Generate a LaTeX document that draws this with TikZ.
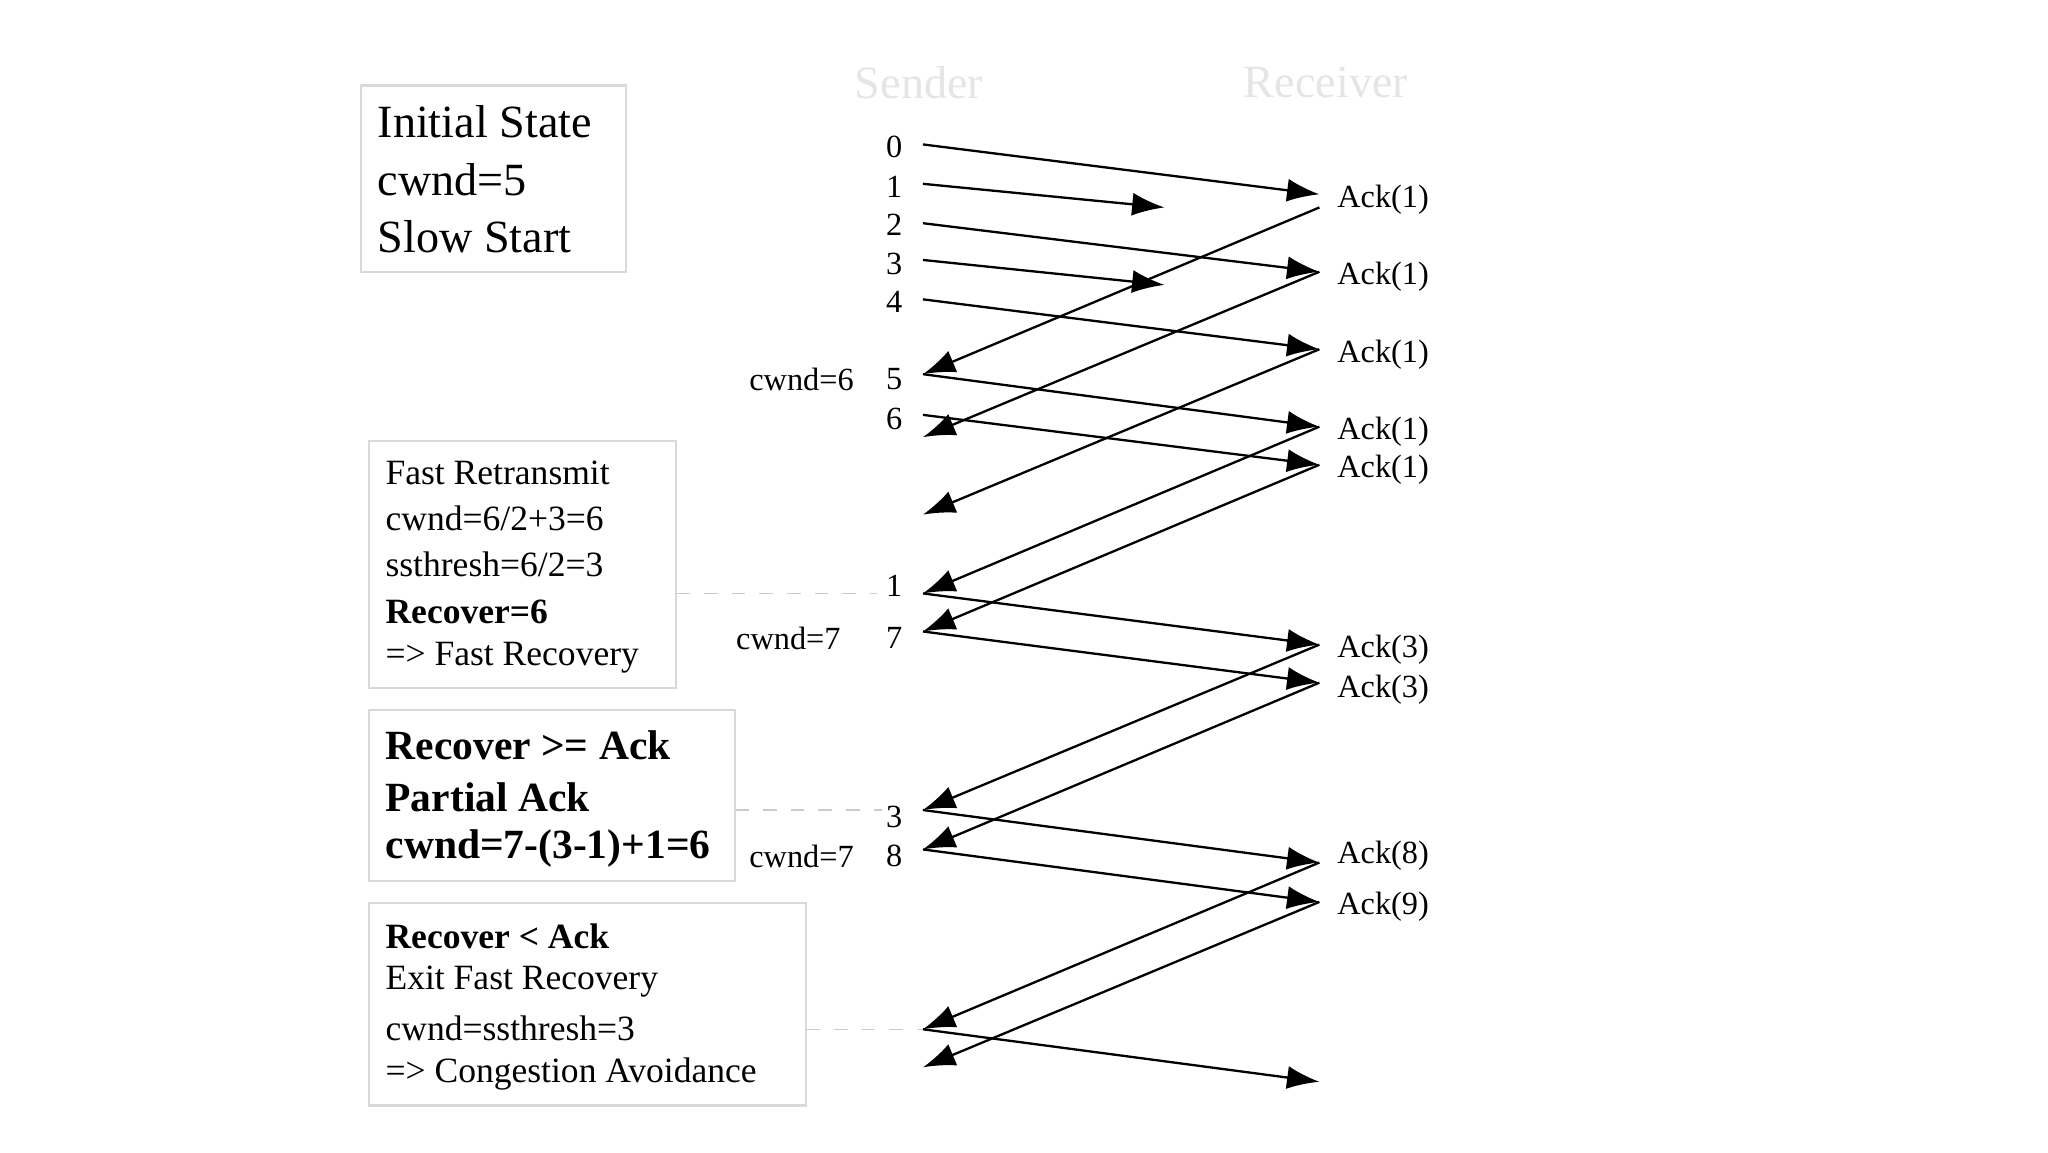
\documentclass[tikz,border=0pt]{standalone}
\usepackage{fontspec}
\setmainfont{Liberation Serif}
\usetikzlibrary{arrows.meta}
\begin{document}
\begin{tikzpicture}[x=0.01cm,y=-0.01cm,
  msg/.style={-{Latex[length=7pt,width=5pt]},line width=0.5pt},
  num/.style={anchor=east,font=\fontsize{7}{8}\selectfont,inner sep=0},
  ack/.style={anchor=west,font=\fontsize{7}{8}\selectfont,inner sep=0},
  hdr/.style={font=\fontsize{10}{12}\selectfont,text=black!10},
  box/.style={draw=black!15,line width=0.5pt},
  txt/.style={anchor=west,font=\fontsize{7.7}{9}\selectfont,inner sep=0},
  guide/.style={draw=black!20,dashed,line width=0.3pt}]
\useasboundingbox (0,0) rectangle (1560,877.5);
\node[hdr] (snd) at (700,63) {Sender};
\node[hdr] (rcv) at (1010,63) {Receiver};
\foreach \n/\t/\y in {n0/0/112,n1/1/142,n2/2/171,n3/3/201,n4/4/230,n5/5/289,n6/6/319,n1b/1/446,n7/7/486,n3b/3/622,n8/8/652}
  \node[num] (\n) at (688,\y) {\t};
\node[num] (c1) at (651,289) {cwnd=6};
\node[num] (c2) at (641,486) {cwnd=7};
\node[num] (c3) at (651,652) {cwnd=7};
\foreach \n/\t/\y in {a1/1/152,a2/1/211,a3/1/270,a4/1/329,a5/1/358,a6/3/495,a7/3/525,a8/8/652,a9/9/691}
  \node[ack] (\n) at (1018,\y) {Ack(\t)};
\foreach \n/\y in {s0/110,s1/140,s2/170,s3/198,s4/228,s5/285,s6/316,s7/333,s8/392,s9/452,s10/481,s11/617,s12/647,s13/784,s14/813}
  \coordinate (\n) at (703,\y);
\foreach \n/\y in {r0/148,r0b/158,r2/207,r4/266,r5/325,r6/354,r9/491,r10/520,r11/657,r12/687,r13/824}
  \coordinate (\n) at (1005,\y);
\coordinate (l1) at (887,158);
\coordinate (l3) at (887,217);
\draw[msg] (s0)--(r0);
\draw[msg] (s1)--(l1);
\draw[msg] (s2)--(r2);
\draw[msg] (s3)--(l3);
\draw[msg] (s4)--(r4);
\draw[msg] (s5)--(r5);
\draw[msg] (s6)--(r6);
\draw[msg] (s9)--(r9);
\draw[msg] (s10)--(r10);
\draw[msg] (s11)--(r11);
\draw[msg] (s12)--(r12);
\draw[msg] (s13)--(r13);
\draw[msg] (r0b)--(s5);
\draw[msg] (r2)--(s7);
\draw[msg] (r4)--(s8);
\draw[msg] (r5)--(s9);
\draw[msg] (r6)--(s10);
\draw[msg] (r9)--(s11);
\draw[msg] (r10)--(s12);
\draw[msg] (r11)--(s13);
\draw[msg] (r12)--(s14);
\draw[box] (275,65) rectangle (477,207);
\node[txt,font=\fontsize{10}{12}\selectfont] (b1a) at (287,93) {Initial State};
\node[txt,font=\fontsize{10}{12}\selectfont] (b1b) at (287,137) {cwnd=5};
\node[txt,font=\fontsize{10}{12}\selectfont] (b1c) at (287,180) {Slow Start};
\draw[box] (281,336) rectangle (515,524);
\node[txt] (b2a) at (293,360) {Fast Retransmit};
\node[txt] (b2b) at (293,395) {cwnd=6/2+3=6};
\node[txt] (b2c) at (293,430) {ssthresh=6/2=3};
\node[txt] (b2d) at (293,466) {\textbf{Recover=6}};
\node[txt] (b2e) at (293,501) {=> Fast Recovery};
\draw[box] (281,541) rectangle (560,671);
\node[txt,font=\fontsize{9}{11}\selectfont\bfseries] (b3a) at (293,568) {Recover >= Ack};
\node[txt,font=\fontsize{9}{11}\selectfont\bfseries] (b3b) at (293,607) {Partial Ack};
\node[txt,font=\fontsize{9}{11}\selectfont\bfseries] (b3c) at (293,646) {cwnd=7-(3-1)+1=6};
\draw[box] (281,688) rectangle (614,842);
\node[txt] (b4a) at (293,713) {\textbf{Recover < Ack}};
\node[txt] (b4b) at (293,748) {Exit Fast Recovery};
\node[txt] (b4c) at (293,783) {cwnd=ssthresh=3};
\node[txt] (b4d) at (293,818) {=> Congestion Avoidance};
\draw[guide] (515,452)--(668,452);
\draw[guide] (560,617)--(672,617);
\draw[guide] (614,784)--(s13);
\end{tikzpicture}
\end{document}
